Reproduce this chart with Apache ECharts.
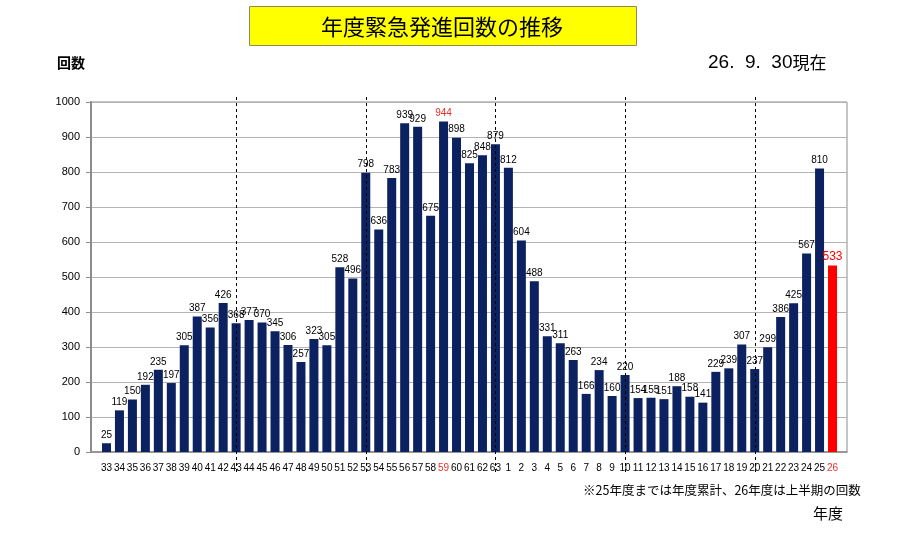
<!DOCTYPE html>
<html>
<head>
<meta charset="utf-8">
<script src="https://cdn.jsdelivr.net/npm/echarts@6/dist/echarts.min.js"></script>
<style>
  html, body { margin: 0; padding: 0; background: #fff; }
  #chart { width: 900px; height: 534px; }
</style>
</head>
<body>
<div id="chart"></div>
<script>
  // 年度（昭和33～63年度、平成1～26年度）
  var years = ['33','34','35','36','37','38','39','40','41','42',
               '43','44','45','46','47','48','49','50','51','52',
               '53','54','55','56','57','58','59','60','61','62','63',
               '1','2','3','4','5','6','7','8','9',
               '10','11','12','13','14','15','16','17','18','19',
               '20','21','22','23','24','25','26'];
  // 緊急発進回数
  var counts = [25,119,150,192,235,197,305,387,356,426,
                368,377,370,345,306,257,323,305,528,496,
                798,636,783,939,929,675,944,898,825,848,879,
                812,604,488,331,311,263,166,234,160,
                220,154,155,151,188,158,141,229,239,307,
                237,299,386,425,567,810,533];
  var redLabelYears = ['59', '26'];   // 赤字のラベル
  var redBarYears = ['26'];           // 上半期のみ（赤い棒）
  var dividerYears = ['43', '53', '63', '10', '20'];  // 点線の区切り

  var chart;
  var numFont = '"Liberation Sans", Arial, sans-serif';
  var jpFont = '"Noto Sans CJK JP", sans-serif';

  function getChartOption() {
    var seriesData = years.map(function (y, i) {
      var item = { value: counts[i] };
      if (redBarYears.indexOf(y) >= 0) {
        item.itemStyle = { color: '#ff0000' };
        item.label = { color: '#ff0000', fontSize: 12 };
      } else if (redLabelYears.indexOf(y) >= 0) {
        item.label = { color: '#e8302a' };
      }
      return item;
    });

    return {
      animation: false,
      backgroundColor: '#fff',
      grid: [
        // bars
        { left: 100, right: 61, top: 102, bottom: 82 },
        // frame, y axis, gridlines
        { left: 91, right: 53, top: 102, bottom: 82, show: true,
          borderColor: '#8c8c8c', borderWidth: 1, backgroundColor: 'transparent' }
      ],
      xAxis: [
        {
          type: 'category', gridIndex: 0, data: years,
          axisLine: { show: false }, axisTick: { show: false },
          axisLabel: {
            interval: 0, margin: 11, fontSize: 10, color: '#000', fontFamily: numFont,
            formatter: function (v) {
              return redLabelYears.indexOf(v) >= 0 ? '{r|' + v + '}' : v;
            },
            rich: { r: { color: '#e8302a', fontSize: 10, fontFamily: numFont } }
          }
        },
        {
          type: 'value', gridIndex: 1, min: 0, max: 1,
          axisLine: { show: true, lineStyle: { color: '#8c8c8c', width: 1.5 } },
          axisTick: { show: false }, axisLabel: { show: false }, splitLine: { show: false }
        }
      ],
      yAxis: [
        {
          type: 'value', gridIndex: 0, min: 0, max: 1000, interval: 100,
          show: false, splitLine: { show: false }
        },
        {
          type: 'value', gridIndex: 1, min: 0, max: 1000, interval: 100,
          axisLine: { show: true, lineStyle: { color: '#8c8c8c', width: 2 } },
          axisTick: { show: true, length: 5, lineStyle: { color: '#8c8c8c' } },
          axisLabel: {
            margin: 11, fontSize: 11, color: '#000', fontFamily: numFont,
            formatter: function (v) { return String(v); }
          },
          splitLine: { show: true, lineStyle: { color: '#b4b4b4', width: 1 } }
        }
      ],
      series: [
        {
          name: '緊急発進回数',
          type: 'bar', xAxisIndex: 0, yAxisIndex: 0,
          barWidth: 9,
          itemStyle: { color: '#0b2160' },
          label: {
            show: true, position: 'top', distance: 3,
            fontSize: 10, color: '#000', fontFamily: numFont
          },
          data: seriesData
        }
      ],
      graphic: [
        { type: 'rect', left: 249, top: 6, shape: { width: 387, height: 39 },
          style: { fill: '#ffff00', stroke: '#8a8a5a', lineWidth: 1 } },
        { type: 'text', x: 442, y: 27,
          style: { text: '年度緊急発進回数の推移', fill: '#000', font: 'normal 22px ' + jpFont,
                   align: 'center', verticalAlign: 'middle' } },
        { type: 'text', x: 708, y: 63,
          style: {
            text: '{n|26.  9.  30}{j|現在}', verticalAlign: 'middle',
            rich: {
              n: { fontSize: 19, fontFamily: numFont, fill: '#000' },
              j: { fontSize: 17, fontFamily: jpFont, fill: '#000' }
            }
          } },
        { type: 'text', left: 57, top: 56,
          style: { text: '回数', fill: '#000', font: 'bold 14px ' + jpFont } },
        { type: 'text', left: 583, top: 484,
          style: { text: '※25年度までは年度累計、26年度は上半期の回数', fill: '#000', font: '12.5px ' + jpFont } },
        { type: 'text', left: 813, top: 506,
          style: { text: '年度', fill: '#000', font: '15px ' + jpFont } }
      ]
    };
  }

  function drawDividers() {
    var lines = dividerYears.map(function (y) {
      var x = Math.round(chart.convertToPixel({ xAxisIndex: 0 }, y)) + 0.5;
      return {
        type: 'line', z: 10,
        shape: { x1: x, y1: 97, x2: x, y2: 473 },
        style: { stroke: '#000', lineWidth: 1, lineDash: [3, 3] }
      };
    });
    var opt = getChartOption();
    chart.setOption({ graphic: opt.graphic.concat(lines) });
  }

  chart = echarts.init(document.getElementById('chart'));
  chart.setOption(getChartOption());
  drawDividers();
</script>
</body>
</html>
